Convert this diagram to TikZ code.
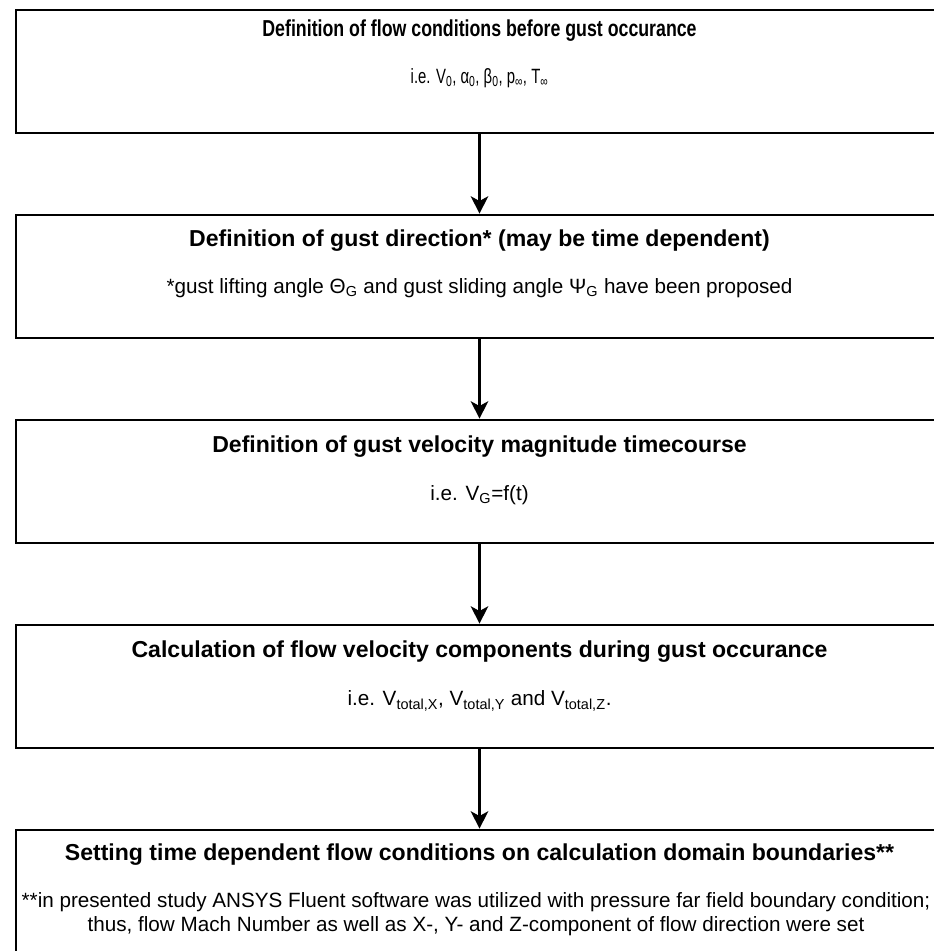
\documentclass[tikz,border=0pt]{standalone}
\usepackage{graphicx}
\usepackage{fontspec}
\setmainfont{Liberation Sans}
\usetikzlibrary{arrows.meta}

\tikzset{every picture/.style={line width=0.75pt}}
\tikzset{
  stagebox/.style={draw, line width=2pt, minimum width=695.25pt, minimum height=92.25pt, inner sep=0pt},
  titletext/.style={font=\fontsize{17.3pt}{21pt}\selectfont\bfseries, inner sep=0pt},
  notetext/.style={font=\fontsize{15.5pt}{18pt}\selectfont, inner sep=0pt, align=center},
  flowarrow/.style={line width=2pt, -{Stealth[length=13pt, width=13pt, inset=3.5pt]}}
}
% narrower lettering of the first box
\newcommand{\narrowtext}[2]{\scalebox{#1}[1]{#2}}

\begin{document}
\begin{tikzpicture}[x=0.75pt,y=0.75pt,yscale=-1,xscale=1]
\useasboundingbox (0,0) rectangle (934,951); %diagram is 934 wide, 951 high

%Shape: Rectangle [id:box1]
\node[stagebox] (b1) at (479.5,71.5) {};
%Shape: Rectangle [id:box2]
\node[stagebox] (b2) at (479.5,276.5) {};
%Shape: Rectangle [id:box3]
\node[stagebox] (b3) at (479.5,481.5) {};
%Shape: Rectangle [id:box4]
\node[stagebox] (b4) at (479.5,686.5) {};
%Shape: Rectangle [id:box5]
\node[stagebox] (b5) at (479.5,891.5) {};

%Straight Lines [id:arrow1]
\draw[flowarrow] (b1) -- (b2);
%Straight Lines [id:arrow2]
\draw[flowarrow] (b2) -- (b3);
%Straight Lines [id:arrow3]
\draw[flowarrow] (b3) -- (b4);
%Straight Lines [id:arrow4]
\draw[flowarrow] (b4) -- (b5);

% Text Node
\node[titletext] (t1) at (479.5,31) {\narrowtext{0.77}{Definition of flow conditions before gust occurance}};
% Text Node
\node[notetext] (n1) at (479.5,78) {\narrowtext{0.72}{i.e. V\textsubscript{0}, α\textsubscript{0}, β\textsubscript{0}, p\textsubscript{∞}, T\textsubscript{∞}}};
% Text Node
\node[titletext] (t2) at (479.5,241) {Definition of gust direction* (may be time dependent)};
% Text Node
\node[notetext] (n2) at (479.5,288) {*gust lifting angle Θ\textsubscript{G} and gust sliding angle Ψ\textsubscript{G} have been proposed};
% Text Node
\node[titletext] (t3) at (479.5,447) {Definition of gust velocity magnitude timecourse};
% Text Node
\node[notetext] (n3) at (479.5,495) {i.e. V\textsubscript{G}=f(t)};
% Text Node
\node[titletext] (t4) at (479.5,652) {Calculation of flow velocity components during gust occurance};
% Text Node
\node[notetext] (n4) at (479.5,701) {i.e. V\textsubscript{total,X}, V\textsubscript{total,Y} and V\textsubscript{total,Z}.};
% Text Node
\node[titletext] (t5) at (479.5,855) {Setting time dependent flow conditions on calculation domain boundaries**};
% Text Node
\node[notetext] (n5) at (476,914) {**in presented study ANSYS Fluent software was utilized with pressure far field boundary condition;\\thus, flow Mach Number as well as X-, Y- and Z-component of flow direction were set};

\end{tikzpicture}
\end{document}
